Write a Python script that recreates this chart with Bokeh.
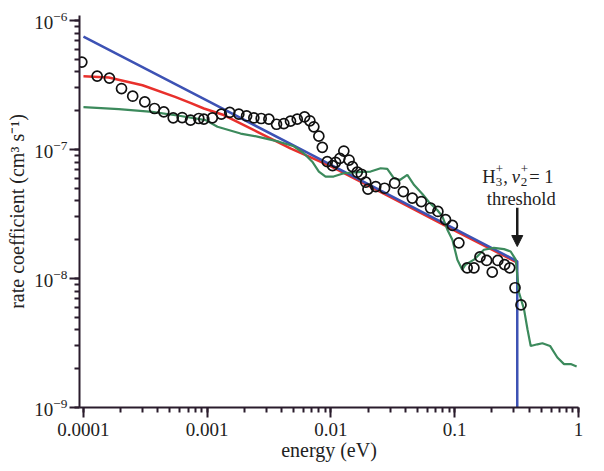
from bokeh.plotting import figure
from bokeh.models import Range1d, CustomJSTickFormatter, Arrow, NormalHead, ColumnDataSource
from bokeh.core.properties import value
from bokeh.embed import file_html
from bokeh.resources import INLINE

# ---- data (energy in eV, rate coefficient in cm^3 s^-1) ----
exp_e = [9.7e-5, 1.29e-4, 1.62e-4, 2.03e-4, 2.50e-4, 3.13e-4, 3.75e-4, 4.46e-4, 5.31e-4, 6.28e-4,
         7.33e-4, 8.55e-4, 9.39e-4, 1.10e-3, 1.30e-3, 1.52e-3, 1.80e-3, 2.08e-3, 2.38e-3, 2.73e-3,
         3.15e-3, 3.63e-3, 4.16e-3, 4.71e-3, 5.34e-3, 6.12e-3, 6.75e-3, 7.27e-3, 7.98e-3, 8.51e-3,
         9.33e-3, 1.03e-2, 1.09e-2, 1.18e-2, 1.27e-2, 1.40e-2, 1.49e-2, 1.63e-2, 1.76e-2, 1.91e-2,
         1.99e-2, 2.30e-2, 2.71e-2, 3.27e-2, 3.84e-2, 4.54e-2, 5.37e-2, 6.38e-2, 7.31e-2, 8.43e-2,
         9.57e-2, 0.108, 0.126, 0.143, 0.160, 0.181, 0.201, 0.223, 0.253, 0.278, 0.307, 0.343]
exp_k = [4.76e-7, 3.71e-7, 3.58e-7, 2.97e-7, 2.59e-7, 2.34e-7, 2.08e-7, 1.96e-7, 1.76e-7, 1.77e-7,
         1.69e-7, 1.74e-7, 1.72e-7, 1.76e-7, 1.88e-7, 1.94e-7, 1.88e-7, 1.82e-7, 1.76e-7, 1.74e-7,
         1.72e-7, 1.57e-7, 1.59e-7, 1.66e-7, 1.72e-7, 1.79e-7, 1.67e-7, 1.50e-7, 1.27e-7, 1.04e-7,
         8.05e-8, 7.50e-8, 7.96e-8, 8.55e-8, 9.73e-8, 8.29e-8, 7.37e-8, 6.67e-8, 6.43e-8, 5.58e-8,
         4.93e-8, 5.16e-8, 5.01e-8, 5.48e-8, 4.72e-8, 4.20e-8, 3.95e-8, 3.52e-8, 3.31e-8, 2.86e-8,
         2.58e-8, 1.89e-8, 1.21e-8, 1.21e-8, 1.47e-8, 1.38e-8, 1.12e-8, 1.38e-8, 1.28e-8, 1.21e-8,
         8.48e-9, 6.24e-9]

blue_e = [1.0e-4, 1.0e-3, 1.0e-2, 1.0e-1, 0.32, 0.32]
blue_k = [7.5e-7, 2.39e-7, 7.6e-8, 2.43e-8, 1.36e-8, 1.0e-9]

red_e = [1.0e-4, 1.6e-4, 3.0e-4, 5.5e-4, 7.3e-4, 9.4e-4, 1.36e-3, 2.54e-3, 4.7e-3, 1.0e-2, 3.0e-2, 0.1, 0.32]
red_k = [3.7e-7, 3.62e-7, 3.15e-7, 2.56e-7, 2.3e-7, 2.08e-7, 1.85e-7, 1.37e-7, 1.02e-7, 7.4e-8, 4.3e-8, 2.35e-8, 1.33e-8]

green_e = [1.0e-4, 1.93e-4, 3.59e-4, 6.1e-4, 9.7e-4, 1.21e-3, 1.86e-3, 2.54e-3, 3.8e-3, 5.0e-3,
           6.0e-3, 7.06e-3, 7.98e-3, 9.04e-3, 1.05e-2, 1.27e-2, 1.63e-2, 2.09e-2, 2.52e-2, 2.85e-2,
           3.22e-2, 3.6e-2, 4.14e-2, 4.7e-2, 5.5e-2, 6.2e-2, 7.22e-2, 7.94e-2, 8.72e-2, 9.57e-2,
           0.105, 0.115, 0.122, 0.143, 0.172, 0.207, 0.250, 0.283, 0.311, 0.321,
           0.331, 0.363, 0.387, 0.411, 0.466, 0.511, 0.589, 0.675, 0.764, 0.865, 0.966]
green_k = [2.13e-7, 2.06e-7, 1.96e-7, 1.82e-7, 1.69e-7, 1.50e-7, 1.33e-7, 1.26e-7, 1.15e-7, 1.06e-7,
           9.4e-8, 8.05e-8, 6.75e-8, 6.17e-8, 6.17e-8, 6.55e-8, 6.67e-8, 6.75e-8, 7.16e-8, 7.07e-8,
           6.0e-8, 5.8e-8, 6.35e-8, 5.3e-8, 4.5e-8, 3.9e-8, 3.4e-8, 3.03e-8, 2.39e-8, 2.0e-8,
           1.4e-8, 1.17e-8, 1.28e-8, 1.4e-8, 1.67e-8, 1.73e-8, 1.69e-8, 1.62e-8, 1.40e-8, 1.04e-8,
           7.76e-9, 5.77e-9, 4.04e-9, 3.0e-9, 3.09e-9, 3.15e-9, 3.0e-9, 2.44e-9, 2.17e-9, 2.17e-9, 2.08e-9]

threshold_e = 0.32
arrow_k = [3.53e-8, 1.77e-8]
label_k = 6.16e-8

FONT = "Liberation Serif"
AXIS_COLOR = "#2a1c2c"
TEXT_COLOR = "#222222"

p = figure(width=596, height=463, x_axis_type="log", y_axis_type="log",
           x_range=Range1d(10 ** -4.032, 1.0), y_range=Range1d(1e-9, 10 ** -5.961),
           output_backend="svg", toolbar_location=None,
           min_border_left=79, min_border_right=18, min_border_top=15, min_border_bottom=54)
p.outline_line_color = None
p.xgrid.visible = False
p.ygrid.visible = False
p.background_fill_color = "white"

for ax in (p.xaxis[0], p.yaxis[0]):
    ax.axis_line_color = AXIS_COLOR
    ax.axis_line_width = 2
    ax.major_tick_line_color = AXIS_COLOR
    ax.minor_tick_line_color = AXIS_COLOR
    ax.major_tick_line_width = 2
    ax.minor_tick_line_width = 2
    ax.major_tick_out = 10
    ax.major_tick_in = 0
    ax.minor_tick_out = 5
    ax.minor_tick_in = 0
    ax.major_label_text_font = FONT
    ax.major_label_text_font_size = "19px"
    ax.major_label_text_color = TEXT_COLOR
    ax.axis_label_text_font = FONT
    ax.axis_label_text_font_size = "20px"
    ax.axis_label_text_font_style = "normal"
    ax.axis_label_text_color = TEXT_COLOR

p.xaxis.formatter = CustomJSTickFormatter(code="return parseFloat(tick.toPrecision(1)).toString();")
p.xaxis.axis_label = "energy (eV)"
p.xaxis.major_label_standoff = 5
p.xaxis.axis_label_standoff = 0
p.yaxis.axis_label = "rate coefficient (cm\u00b3 s\u207b\u00b9)"
p.yaxis.major_label_standoff = 2
p.yaxis.axis_label_standoff = 3

p.line(red_e, red_k, line_color="#e8302c", line_width=2.5)
p.line(blue_e, blue_k, line_color="#3d52b4", line_width=2.5)
p.line(green_e, green_k, line_color="#3c8a5c", line_width=2.2)
p.scatter(exp_e, exp_k, marker="circle", size=10, fill_color=None,
          line_color="#111111", line_width=1.7)

p.add_layout(Arrow(end=NormalHead(size=11, fill_color="#1a1a1a", line_color="#1a1a1a"),
                   x_start=threshold_e, y_start=arrow_k[0], x_end=threshold_e, y_end=arrow_k[1],
                   line_color="#1a1a1a", line_width=2.5))

# annotation text pieces "H3+, v2+ = 1" / "threshold"
pieces = [("H", -35, 0, "18.5px", "normal"),
          ("3", -21.5, 5, "13px", "normal"),
          ("+", -21.5, -8, "13px", "normal"),
          (",", -14, 0, "18.5px", "normal"),
          ("v", -5.5, 0, "18.5px", "italic"),
          ("2", 3.5, 5, "13px", "normal"),
          ("+", 3.5, -8, "13px", "normal"),
          ("= 1", 12, 0, "18.5px", "normal")]
src = ColumnDataSource(dict(x=[threshold_e] * len(pieces), y=[label_k] * len(pieces),
                            t=[q[0] for q in pieces], xo=[q[1] for q in pieces],
                            yo=[q[2] for q in pieces], fs=[q[3] for q in pieces],
                            st=[q[4] for q in pieces]))
p.text(x="x", y="y", text="t", x_offset="xo", y_offset="yo", text_font_size="fs",
       text_font_style="st", text_font=value(FONT), text_color=TEXT_COLOR,
       text_baseline="alphabetic", text_align="left", source=src)
p.text(x=[threshold_e], y=[label_k], text=["threshold"], x_offset=4, y_offset=22,
       text_font=value(FONT), text_font_size="18.5px", text_color=TEXT_COLOR,
       text_baseline="alphabetic", text_align="center")

open("out.html", "w").write(file_html(p, INLINE))
